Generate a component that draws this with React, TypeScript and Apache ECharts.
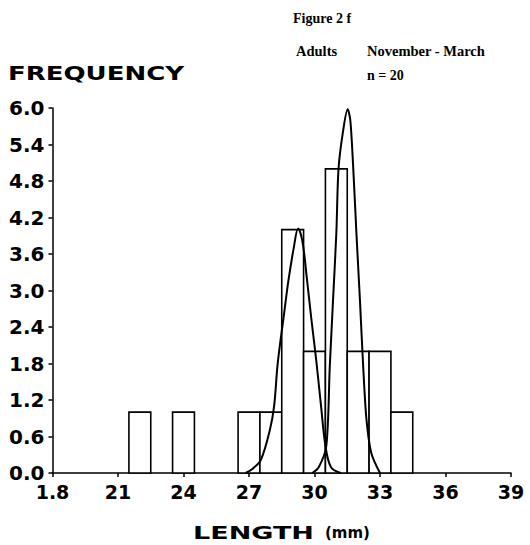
import React, { useEffect, useRef } from "react";
import * as echarts from "echarts";

// Histogram bins (1 mm wide, centred on these lengths) and their counts
const binCenters = [22, 24, 27, 28, 29, 30, 31, 32, 33, 34];
const frequencies = [1, 1, 1, 1, 4, 2, 5, 2, 2, 1];
const binWidth = 1;

// Fitted curves: [length, frequency]
const curveA: [number, number][] = [
  [26.85, 0], [27.2, 0.08], [27.55, 0.22], [27.95, 0.7], [28.15, 1.1],
  [28.3, 1.75], [28.45, 2.2], [28.6, 2.6], [28.8, 3.15], [29.05, 3.7],
  [29.25, 4.02], [29.45, 3.8], [29.65, 3.2], [29.85, 2.55], [30.08, 1.85],
  [30.3, 1.1], [30.5, 0.45], [30.75, 0.1], [31.2, 0],
];
const curveB: [number, number][] = [
  [29.9, 0], [30.2, 0.1], [30.54, 0.44], [30.7, 1.75], [30.85, 2.85],
  [31.0, 3.94], [31.1, 5.0], [31.3, 5.6], [31.52, 5.98], [31.64, 5.8],
  [31.77, 5.04], [31.92, 3.94], [32.08, 2.85], [32.23, 1.75], [32.38, 0.88],
  [32.6, 0.33], [33.0, 0],
];

const xTickValues = [18, 21, 24, 27, 30, 33, 36, 39];
const xTickLabels = ["1.8", "21", "24", "27", "30", "33", "36", "39"];

const SANS = "'DejaVu Sans', sans-serif";
const SERIF = "'Liberation Serif', serif";

export default function App() {
  const ref = useRef<HTMLDivElement>(null);
  useEffect(() => {
    if (!ref.current) return;
    const chart = echarts.init(ref.current, null, { renderer: "svg" });
    chart.setOption({
      animation: false,
      backgroundColor: "#fff",
      grid: { left: 52.5, right: 19, top: 108, bottom: 72 },
      xAxis: {
        type: "value",
        min: 18,
        max: 39,
        interval: 3,
        splitLine: { show: false },
        axisLine: { show: true, lineStyle: { color: "#000", width: 1.5 } },
        axisTick: { show: true, length: 4, lineStyle: { color: "#000", width: 1.5 } },
        axisLabel: {
          color: "#000",
          fontFamily: SANS,
          fontWeight: "bold",
          fontSize: 19,
          margin: 9,
          formatter: (v: number) => {
            const i = xTickValues.indexOf(Math.round(v));
            return i >= 0 ? xTickLabels[i] : "";
          },
        },
      },
      yAxis: {
        type: "value",
        min: 0,
        max: 6,
        interval: 0.6,
        splitLine: { show: false },
        axisLine: { show: true, lineStyle: { color: "#000", width: 1.5 } },
        axisTick: { show: true, length: 4, lineStyle: { color: "#000", width: 1.5 } },
        axisLabel: {
          color: "#000",
          fontFamily: SANS,
          fontWeight: "bold",
          fontSize: 20,
          margin: 8,
          formatter: (v: number) => v.toFixed(1),
        },
      },
      series: [
        {
          type: "custom",
          data: binCenters.map((c, i) => [c, frequencies[i]]),
          encode: { x: 0, y: 1 },
          renderItem: (params: any, api: any) => {
            const c = api.value(0);
            const f = api.value(1);
            const p0 = api.coord([c - binWidth / 2, 0]);
            const p1 = api.coord([c + binWidth / 2, f]);
            return {
              type: "rect",
              shape: { x: p0[0], y: p1[1], width: p1[0] - p0[0], height: p0[1] - p1[1] },
              style: { fill: "#fff", stroke: "#000", lineWidth: 1.6 },
            };
          },
        },
        {
          type: "line",
          data: curveA,
          smooth: 0.35,
          showSymbol: false,
          lineStyle: { color: "#000", width: 2 },
        },
        {
          type: "line",
          data: curveB,
          smooth: 0.3,
          showSymbol: false,
          lineStyle: { color: "#000", width: 2 },
        },
      ],
      graphic: [
        {
          type: "text",
          x: 293,
          y: 18,
          style: { text: "Figure 2 f", font: `bold 14px ${SERIF}`, fill: "#000", verticalAlign: "middle" },
        },
        {
          type: "text",
          x: 296,
          y: 51,
          style: { text: "Adults", font: `bold 14.5px ${SERIF}`, fill: "#000", verticalAlign: "middle" },
        },
        {
          type: "text",
          x: 367,
          y: 51,
          style: { text: "November - March", font: `bold 14.5px ${SERIF}`, fill: "#000", verticalAlign: "middle" },
        },
        {
          type: "text",
          x: 367,
          y: 75,
          style: { text: "n = 20", font: `bold 14px ${SERIF}`, fill: "#000", verticalAlign: "middle" },
        },
        {
          type: "text",
          x: 8,
          y: 73,
          scaleX: 1.3,
          style: { text: "FREQUENCY", font: `bold 20px ${SANS}`, fill: "#000", verticalAlign: "middle" },
        },
        {
          type: "text",
          x: 193,
          y: 533,
          scaleX: 1.5,
          style: { text: "LENGTH", font: `bold 18px ${SANS}`, fill: "#000", verticalAlign: "middle" },
        },
        {
          type: "text",
          x: 325,
          y: 533,
          style: { text: "(mm)", font: `bold 15px ${SANS}`, fill: "#000", verticalAlign: "middle" },
        },
      ],
    });
    return () => chart.dispose();
  }, []);
  return (
    <div
      ref={ref}
      style={{ position: "absolute", left: 0, top: 0, width: 530, height: 545 }}
    />
  );
}
